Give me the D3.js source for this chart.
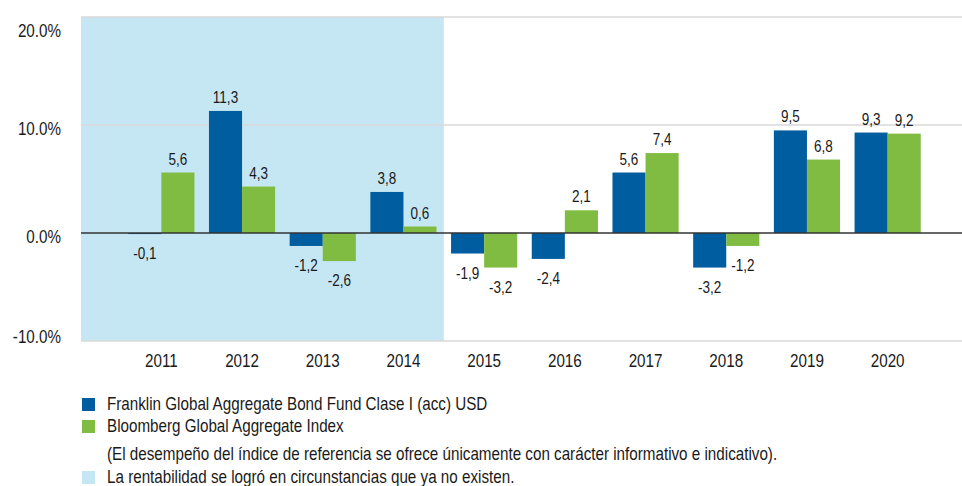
<!DOCTYPE html>
<html>
<head>
<meta charset="utf-8">
<script src="https://cdn.jsdelivr.net/npm/d3@7"></script>
<style>
  body { margin: 0; background: #fff; }
  svg text { font-family: "Liberation Sans Narrow", "Arial Narrow", "Liberation Sans", Arial, sans-serif; fill: #1a1a1a; }
  .tick text { font-size: 18px; }
  .val { font-size: 16px; }
  .legend text { font-size: 18px; }
</style>
</head>
<body>
<svg id="chart" width="962" height="486"></svg>
<script>
// data
const years = ["2011","2012","2013","2014","2015","2016","2017","2018","2019","2020"]
const fund  = [-0.1, 11.3, -1.2, 3.8, -1.9, -2.4, 5.6, -3.2, 9.5, 9.3]
const index = [5.6, 4.3, -2.6, 0.6, -3.2, 2.1, 7.4, -1.2, 6.8, 9.2]
const seriesNames = ["Franklin Global Aggregate Bond Fund Clase I (acc) USD", "Bloomberg Global Aggregate Index"]
const yTicks = [-10, 0, 10, 20]
const shadedYears = ["2011","2012","2013","2014"]
const note = "(El desempeño del índice de referencia se ofrece únicamente con carácter informativo e indicativo)."
const shadeNote = "La rentabilidad se logró en circunstancias que ya no existen."

const colors = ["#005da0", "#80bc41"]
const shadeColor = "#c5e7f3"

let svg = d3.select("#chart")
let plotLeft = 81, plotRight = 962, plotTop = 17, plotBottom = 341

let y = d3.scaleLinear().domain([-10, 20]).range([plotBottom, plotTop])
let x0 = d3.scaleBand().domain(years).range([121, 928]).paddingInner(0.18).paddingOuter(0.09)
let x1 = d3.scaleBand().domain([0, 1]).range([0, x0.bandwidth()])

let fmt = d => d3.format(".1f")(d).replace("−", "-")

// shaded period
let lastShade = shadedYears[shadedYears.length - 1]
let nextYear = years[years.indexOf(lastShade) + 1]
let shadeEnd = (x0(lastShade) + x0.bandwidth() + x0(nextYear)) / 2
svg.append("rect")
    .attr("x", plotLeft).attr("y", plotTop)
    .attr("width", shadeEnd - plotLeft).attr("height", plotBottom - plotTop)
    .attr("fill", shadeColor)

// grid lines
svg.append("g").selectAll("line")
    .data(yTicks.filter(d => d !== 0))
    .enter().append("line")
    .attr("x1", plotLeft).attr("x2", plotRight)
    .attr("y1", d => y(d)).attr("y2", d => y(d))
    .attr("stroke", "#d9d9d9").attr("stroke-width", 1.5)

// y axis labels
let yAxis = d3.axisLeft(y).tickValues(yTicks).tickSize(0).tickPadding(0)
    .tickFormat(d => fmt(d) + "%")
let ya = svg.append("g").attr("transform", `translate(61,0)`).call(yAxis)
ya.select(".domain").remove()
ya.selectAll(".tick text").attr("dy", "0.55em").attr("fill", "#1a1a1a")
ya.selectAll(".tick").filter(d => d === 20).select("text").attr("dy", "1.1em")
ya.selectAll(".tick").filter(d => d === -10).select("text").attr("dy", "0.1em")

// bars
let groups = svg.append("g").selectAll("g")
    .data(years)
    .enter().append("g")
    .attr("transform", d => `translate(${x0(d)},0)`)

groups.selectAll("rect")
    .data((d, i) => [fund[i], index[i]])
    .enter().append("rect")
    .attr("x", (d, j) => x1(j))
    .attr("width", x1.bandwidth())
    .attr("y", d => y(Math.max(0, d)))
    .attr("height", d => Math.abs(y(d) - y(0)))
    .attr("fill", (d, j) => colors[j])

groups.selectAll("text")
    .data((d, i) => [fund[i], index[i]])
    .enter().append("text")
    .attr("class", "val")
    .attr("x", (d, j) => x1(j) + x1.bandwidth() / 2)
    .attr("y", d => d >= 0 ? y(d) - 8 : y(d) + 25)
    .attr("text-anchor", "middle")
    .text(d => fmt(d).replace(".", ","))

// zero line
svg.append("line")
    .attr("x1", plotLeft).attr("x2", plotRight)
    .attr("y1", y(0)).attr("y2", y(0))
    .attr("stroke", "#333").attr("stroke-width", 1.5)

// x axis
let xAxis = d3.axisBottom(x0).tickSize(0).tickPadding(0)
let xa = svg.append("g").attr("transform", `translate(0,${plotBottom})`).call(xAxis)
xa.select(".domain").remove()
xa.selectAll(".tick text").attr("dy", "1.45em").attr("fill", "#1a1a1a")

// legend
let legend = svg.append("g").attr("class", "legend")
let rows = [
    {fill: colors[0], text: seriesNames[0], y: 410},
    {fill: colors[1], text: seriesNames[1], y: 432},
    {fill: null, text: note, y: 460},
    {fill: shadeColor, text: shadeNote, y: 483}
]
rows.forEach(r => {
    if (r.fill) {
        legend.append("rect").attr("x", 82).attr("y", r.y - 12)
            .attr("width", 13).attr("height", 13).attr("fill", r.fill)
    }
    legend.append("text").attr("x", 107).attr("y", r.y).text(r.text)
})

// no narrow font installed: squeeze text horizontally around its anchor
svg.selectAll("text").each(function() {
    let t = d3.select(this)
    let ax = parseFloat(t.attr("x")) || 0
    t.attr("transform", `translate(${ax},0) scale(0.845,1) translate(${-ax},0)`)
})
</script>
</body>
</html>
